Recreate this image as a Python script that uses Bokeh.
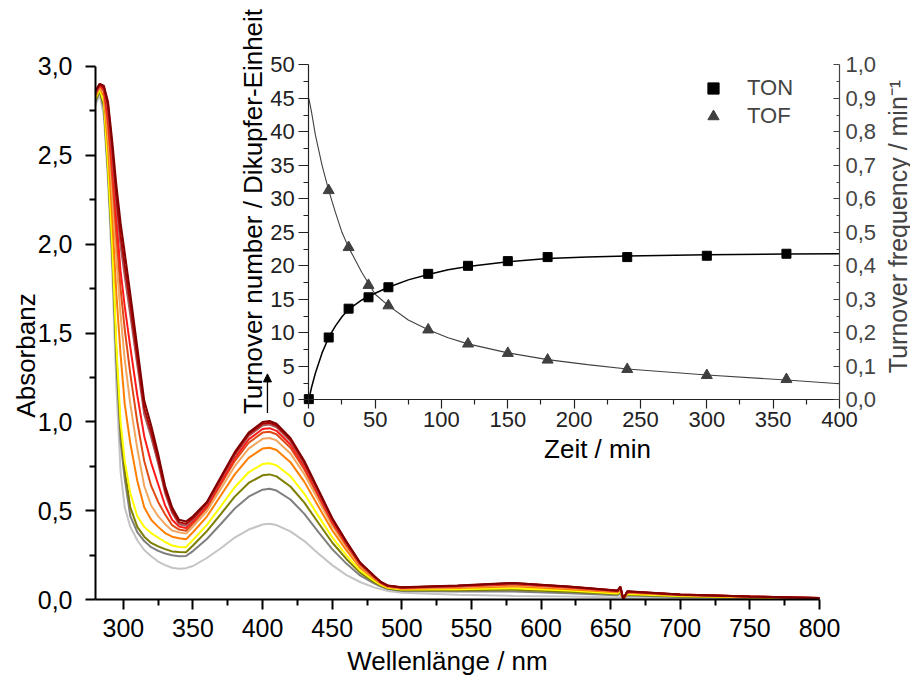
import math
from bokeh.plotting import figure
from bokeh.models import (Range1d, LinearAxis, FixedTicker, CustomJSTickFormatter,
                          Arrow, NormalHead, Legend, LegendItem, Label)
from bokeh.embed import file_html
from bokeh.resources import INLINE

# ---------------- data: UV/Vis spectra ----------------
wavelength = [280, 283, 286, 289, 292, 295, 298, 301, 305, 310, 315, 320, 325, 330, 335,
              340, 345, 350, 360, 370, 380, 390, 400, 405, 410, 420, 430, 440, 450, 460,
              470, 480, 485, 490, 500, 540, 580, 620, 655, 657, 659, 662, 700, 750, 800]

abs_lightgrey = [2.78, 2.84, 2.72, 2.35, 1.85, 1.20, 0.72, 0.52, 0.41, 0.335, 0.28, 0.245, 0.215, 0.195, 0.18,
                 0.175, 0.178, 0.19, 0.235, 0.29, 0.35, 0.395, 0.423, 0.428, 0.42, 0.385, 0.33, 0.26, 0.195, 0.14,
                 0.10, 0.07, 0.06, 0.05, 0.04, 0.028, 0.022, 0.018, 0.013, 0.016, 0.006, 0.012, 0.009, 0.006, 0.004]
abs_grey = [2.80, 2.86, 2.76, 2.40, 1.94, 1.34, 0.89, 0.68, 0.47, 0.38, 0.33, 0.296, 0.275, 0.26, 0.25,
            0.245, 0.246, 0.274, 0.342, 0.426, 0.513, 0.58, 0.619, 0.624, 0.614, 0.564, 0.483, 0.382, 0.285, 0.205,
            0.137, 0.092, 0.074, 0.06, 0.05, 0.046, 0.047, 0.037, 0.026, 0.036, 0.006, 0.024, 0.016, 0.010, 0.006]
abs_olive = [2.81, 2.86, 2.78, 2.42, 1.97, 1.38, 0.95, 0.73, 0.52, 0.41, 0.355, 0.32, 0.30, 0.285, 0.272,
             0.269, 0.267, 0.305, 0.386, 0.482, 0.58, 0.657, 0.70, 0.705, 0.694, 0.637, 0.546, 0.433, 0.322, 0.231,
             0.153, 0.101, 0.079, 0.064, 0.054, 0.053, 0.057, 0.045, 0.032, 0.044, 0.006, 0.029, 0.019, 0.012, 0.007]
abs_yellow = [2.82, 2.87, 2.80, 2.44, 2.00, 1.43, 1.00, 0.78, 0.60, 0.47, 0.41, 0.375, 0.35, 0.325, 0.305,
              0.297, 0.296, 0.336, 0.421, 0.526, 0.633, 0.717, 0.763, 0.768, 0.756, 0.695, 0.596, 0.472, 0.351, 0.252,
              0.165, 0.108, 0.084, 0.068, 0.058, 0.059, 0.065, 0.052, 0.036, 0.05, 0.006, 0.033, 0.021, 0.014, 0.008]
abs_orange = [2.83, 2.88, 2.83, 2.55, 2.15, 1.72, 1.38, 1.10, 0.88, 0.67, 0.52, 0.45, 0.41, 0.375, 0.355,
              0.346, 0.34, 0.38, 0.468, 0.586, 0.705, 0.798, 0.85, 0.855, 0.842, 0.774, 0.663, 0.526, 0.391, 0.281,
              0.181, 0.118, 0.09, 0.072, 0.062, 0.066, 0.076, 0.06, 0.042, 0.059, 0.006, 0.039, 0.025, 0.016, 0.008]
abs_sandy = [2.84, 2.88, 2.85, 2.62, 2.28, 1.92, 1.60, 1.35, 1.10, 0.85, 0.64, 0.53, 0.47, 0.425, 0.39,
             0.379, 0.372, 0.411, 0.498, 0.624, 0.751, 0.85, 0.905, 0.91, 0.896, 0.823, 0.706, 0.561, 0.416, 0.299,
             0.192, 0.124, 0.093, 0.075, 0.065, 0.071, 0.083, 0.066, 0.046, 0.064, 0.006, 0.042, 0.027, 0.017, 0.009]
abs_orangered = [2.84, 2.89, 2.86, 2.67, 2.38, 2.05, 1.75, 1.52, 1.27, 1.00, 0.78, 0.64, 0.55, 0.48, 0.42,
                 0.395, 0.388, 0.428, 0.517, 0.648, 0.78, 0.883, 0.94, 0.945, 0.931, 0.855, 0.733, 0.583, 0.432, 0.31,
                 0.199, 0.128, 0.096, 0.077, 0.067, 0.075, 0.087, 0.069, 0.048, 0.068, 0.006, 0.044, 0.028, 0.018, 0.009]
abs_red = [2.85, 2.89, 2.87, 2.72, 2.45, 2.14, 1.85, 1.65, 1.42, 1.15, 0.92, 0.77, 0.65, 0.53, 0.45,
           0.412, 0.403, 0.441, 0.528, 0.662, 0.796, 0.902, 0.96, 0.965, 0.95, 0.873, 0.749, 0.595, 0.441, 0.317,
           0.202, 0.13, 0.097, 0.078, 0.068, 0.076, 0.09, 0.071, 0.049, 0.07, 0.006, 0.045, 0.029, 0.018, 0.01]
abs_rosy = [2.85, 2.90, 2.88, 2.76, 2.51, 2.23, 1.99, 1.82, 1.60, 1.322, 1.044, 0.914, 0.766, 0.60, 0.489,
            0.425, 0.416, 0.453, 0.539, 0.676, 0.813, 0.921, 0.98, 0.985, 0.97, 0.892, 0.764, 0.607, 0.451, 0.323,
            0.206, 0.133, 0.099, 0.079, 0.069, 0.078, 0.092, 0.073, 0.051, 0.072, 0.006, 0.047, 0.029, 0.019, 0.01]
abs_darkred = [2.86, 2.90, 2.88, 2.78, 2.54, 2.27, 2.05, 1.88, 1.66, 1.366, 1.078, 0.943, 0.79, 0.618, 0.503,
               0.436, 0.427, 0.46, 0.545, 0.683, 0.822, 0.931, 0.99, 0.995, 0.98, 0.901, 0.772, 0.614, 0.455, 0.327,
               0.208, 0.134, 0.099, 0.079, 0.069, 0.079, 0.094, 0.074, 0.051, 0.073, 0.006, 0.047, 0.03, 0.019, 0.01]
abs_maroon = [2.86, 2.90, 2.89, 2.80, 2.58, 2.33, 2.12, 1.95, 1.72, 1.42, 1.12, 0.98, 0.82, 0.64, 0.52,
              0.45, 0.44, 0.47, 0.55, 0.69, 0.83, 0.94, 1.00, 1.005, 0.99, 0.91, 0.78, 0.62, 0.46, 0.33,
              0.21, 0.135, 0.10, 0.08, 0.07, 0.08, 0.095, 0.075, 0.052, 0.074, 0.005, 0.048, 0.03, 0.019, 0.01]

spectra = [
    (abs_lightgrey, "#c4c4c4"),
    (abs_grey, "#7f7f7f"),
    (abs_olive, "#7d7d00"),
    (abs_yellow, "#ffff00"),
    (abs_orange, "#ff7f00"),
    (abs_sandy, "#f2a65e"),
    (abs_orangered, "#e04a14"),
    (abs_red, "#ff1a1a"),
    (abs_rosy, "#a65a5a"),
    (abs_darkred, "#b00000"),
    (abs_maroon, "#800000"),
]

wl_ticks = [300, 350, 400, 450, 500, 550, 600, 650, 700, 750, 800]
wl_minor = [325, 375, 425, 475, 525, 575, 625, 675, 725, 775]
abs_ticks = [0.0, 0.5, 1.0, 1.5, 2.0, 2.5, 3.0]
abs_minor = [0.25, 0.75, 1.25, 1.75, 2.25, 2.75]

# arrow marking the growth of the 400 nm band
arrow_nm = 403.5
arrow_from = 1.05
arrow_to = 1.27

# ---------------- data: inset (TON / TOF) ----------------
ton_time = [0, 15, 30, 45, 60, 90, 120, 150, 180, 240, 300, 360]
ton_vals = [0.1, 9.3, 13.6, 15.3, 16.8, 18.8, 20.0, 20.7, 21.3, 21.3, 21.5, 21.8]
tof_time = [15, 30, 45, 60, 90, 120, 150, 180, 240, 300, 360]
tof_vals = [0.625, 0.455, 0.342, 0.281, 0.209, 0.167, 0.139, 0.119, 0.091, 0.073, 0.061]

fit_time = [0, 2, 5, 10, 15, 20, 25, 30, 40, 50, 60, 75, 90, 105, 120, 150, 180, 210, 240, 300, 360, 400]
ton_fit = [0, 1.8, 4.0, 7.0, 9.3, 11.0, 12.4, 13.5, 14.9, 15.9, 16.8, 17.9, 18.7, 19.4, 19.9, 20.6,
           21.1, 21.3, 21.45, 21.65, 21.75, 21.8]
tof_fit = [0.90, 0.86, 0.79, 0.70, 0.625, 0.56, 0.50, 0.455, 0.38, 0.315, 0.281, 0.238, 0.209, 0.185,
           0.167, 0.140, 0.120, 0.105, 0.092, 0.074, 0.059, 0.048]

time_ticks = [0, 50, 100, 150, 200, 250, 300, 350, 400]
time_minor = [25, 75, 125, 175, 225, 275, 325, 375]
ton_ticks = [0, 5, 10, 15, 20, 25, 30, 35, 40, 45, 50]
ton_minor = [2.5, 7.5, 12.5, 17.5, 22.5, 27.5, 32.5, 37.5, 42.5, 47.5]
tof_ticks = [0.0, 0.1, 0.2, 0.3, 0.4, 0.5, 0.6, 0.7, 0.8, 0.9, 1.0]
tof_minor = [0.05, 0.15, 0.25, 0.35, 0.45, 0.55, 0.65, 0.75, 0.85, 0.95]

# ---------------- layout (frame = whole canvas, pixel targets) ----------------
W, H = 910, 675
FL, FR, FT, FB = 0, W, 0, H


def span(v0, p0, v1, p1, lo_px, hi_px):
    k = (v1 - v0) / (p1 - p0)
    return v0 + (lo_px - p0) * k, v0 + (hi_px - p0) * k


def to_val(v0, p0, v1, p1, px):
    return v0 + (px - p0) * (v1 - v0) / (p1 - p0)


# pixel anchors of the scales
MX = (280, 95, 800, 819)
MY = (0, 599.3, 3.0, 65.7)
TX = (0, 308.3, 400, 839)
NY = (0, 399.3, 50, 64.3)
FY = (0, 399.3, 1.0, 64.3)

x0, x1 = span(*MX, FL, FR)
y0, y1 = span(*MY, FB, FT)
t0, t1 = span(*TX, FL, FR)
n0, n1 = span(*NY, FB, FT)
f0, f1 = span(*FY, FB, FT)

p = figure(width=W, height=H, x_range=Range1d(x0, x1), y_range=Range1d(y0, y1),
           output_backend="svg", toolbar_location=None, x_axis_type=None, y_axis_type=None,
           min_border_left=0, min_border_right=0, min_border_top=0, min_border_bottom=0)
p.outline_line_color = None
p.background_fill_color = "white"
p.border_fill_color = "white"
p.extra_x_ranges = {"tx": Range1d(t0, t1)}
p.extra_y_ranges = {"ton": Range1d(n0, n1), "tof": Range1d(f0, f1)}

FONT = "Liberation Sans"
comma = CustomJSTickFormatter(code="return tick.toFixed(1).replace('.', ',');")


def style(ax, lw, color, tsize, tick_out, minor_out, std, tick_in=0, minor_in=0):
    ax.axis_line_width = lw
    ax.axis_line_color = color
    ax.major_tick_line_width = lw
    ax.major_tick_line_color = color
    ax.minor_tick_line_width = lw
    ax.minor_tick_line_color = color
    ax.major_tick_out = tick_out
    ax.major_tick_in = tick_in
    ax.minor_tick_out = minor_out
    ax.minor_tick_in = minor_in
    ax.major_label_text_font = FONT
    ax.major_label_text_font_size = f"{tsize}px"
    ax.major_label_text_color = color
    ax.major_label_standoff = std


def title(text, xpx, ypx, xs, ys, angle=0.0, color="black", size="26px", xr="default", yr="default"):
    p.add_layout(Label(x=to_val(*xs, xpx), y=to_val(*ys, ypx), x_range_name=xr, y_range_name=yr,
                       text=text, angle=angle, text_align="center", text_baseline="middle",
                       text_font=FONT, text_font_size=size, text_color=color))


# main axes
xa = LinearAxis(fixed_location=0, bounds=(280, 800),
                ticker=FixedTicker(ticks=wl_ticks, minor_ticks=wl_minor))
style(xa, 2, "black", 25, 10, 6, 9)
p.add_layout(xa, "below")

ya = LinearAxis(fixed_location=280, bounds=(0, 3),
                ticker=FixedTicker(ticks=abs_ticks, minor_ticks=abs_minor), formatter=comma)
style(ya, 2, "black", 25, 10, 6, 13)
p.add_layout(ya, "left")

title("Wellenlänge / nm", 447, 660, MX, MY)
title("Absorbanz", 25, 355, MX, MY, angle=math.pi / 2)

# spectra
for vals, col in spectra:
    p.line(wavelength, vals, color=col, line_width=2)

p.add_layout(Arrow(end=NormalHead(size=8, fill_color="black", line_color="black", line_width=1),
                   x_start=arrow_nm, y_start=arrow_from, x_end=arrow_nm, y_end=arrow_to,
                   line_color="black", line_width=1.3))

# inset axes
ix = LinearAxis(x_range_name="tx", y_range_name="ton", fixed_location=0, bounds=(0, 400),
                ticker=FixedTicker(ticks=time_ticks, minor_ticks=time_minor))
style(ix, 1.2, "#222222", 22, 9, 5, 3)
p.add_layout(ix, "below")

iy = LinearAxis(x_range_name="tx", y_range_name="ton", fixed_location=0, bounds=(0, 50),
                ticker=FixedTicker(ticks=ton_ticks, minor_ticks=ton_minor))
style(iy, 1.2, "#222222", 22, 10, 5, 4)
p.add_layout(iy, "left")

iz = LinearAxis(x_range_name="tx", y_range_name="tof", fixed_location=400, bounds=(0, 1),
                formatter=comma, ticker=FixedTicker(ticks=tof_ticks, minor_ticks=tof_minor))
style(iz, 1.2, "#444444", 22, 0, 0, 6, tick_in=6, minor_in=3)
p.add_layout(iz, "right")

title("Zeit / min", 597, 448, TX, NY, xr="tx", yr="ton")
title("Turnover number / Dikupfer-Einheit", 252, 211, TX, NY, angle=math.pi / 2, xr="tx", yr="ton")
title("Turnover frequency / min⁻¹", 897, 226, TX, FY, angle=math.pi / 2, color="#444444",
      size="25px", xr="tx", yr="tof")

# inset data
p.line(fit_time, tof_fit, x_range_name="tx", y_range_name="tof", color="#404040", line_width=1.1)
p.line(fit_time, ton_fit, x_range_name="tx", y_range_name="ton", color="black", line_width=1.5)
r_ton = p.scatter(ton_time, ton_vals, x_range_name="tx", y_range_name="ton", marker="square",
                  size=9, color="black")
r_tof = p.scatter(tof_time, tof_vals, x_range_name="tx", y_range_name="tof", marker="triangle",
                  size=11, color="#404040")

legend = Legend(items=[LegendItem(label="TON", renderers=[r_ton]),
                       LegendItem(label="TOF", renderers=[r_tof])],
                location=(698, H - 130), padding=0, margin=0, spacing=0,
                glyph_width=30, glyph_height=28, label_height=28, label_standoff=19,
                label_text_font=FONT, label_text_font_size="22px",
                background_fill_alpha=0, border_line_alpha=0)
p.add_layout(legend)

open("out.html", "w").write(file_html(p, INLINE, "chart"))
